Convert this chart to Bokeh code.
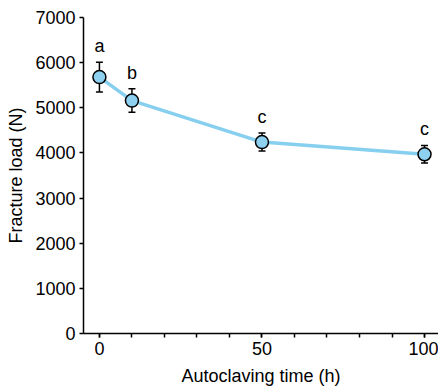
from bokeh.plotting import figure
from bokeh.models import ColumnDataSource, Whisker, TeeHead, SingleIntervalTicker, FixedTicker, Range1d
from bokeh.core.properties import value
from bokeh.embed import file_html
from bokeh.resources import INLINE

hours = [0, 10, 50, 100]
load = [5680, 5160, 4240, 3970]
err = [330, 260, 200, 195]
letters = ["a", "b", "c", "c"]

upper = [v + e for v, e in zip(load, err)]
lower = [v - e for v, e in zip(load, err)]
src = ColumnDataSource(dict(x=hours, y=load, upper=upper, lower=lower, t=letters))

FONT = "Liberation Sans"

p = figure(width=438, height=390, output_backend="svg", toolbar_location=None,
           x_range=Range1d(-4.9, 104.3), y_range=Range1d(0, 7000),
           min_border_left=83, min_border_right=0, min_border_top=17, min_border_bottom=57)
p.grid.visible = False
p.outline_line_color = None

p.line("x", "y", source=src, line_color="#86cfee", line_width=3.5)
w = Whisker(source=src, base="x", upper="upper", lower="lower", line_color="black", line_width=1.5,
            upper_head=TeeHead(size=7, line_color="black", line_width=1.5),
            lower_head=TeeHead(size=7, line_color="black", line_width=1.5))
p.add_layout(w)
p.scatter("x", "y", source=src, size=13, fill_color="#8dd0f0", line_color="black", line_width=1.5)
p.text("x", "upper", text="t", source=src, text_align="center", text_baseline="bottom",
       y_offset=-6, text_font=value(FONT), text_font_size="18px", text_color="black")

xa = p.xaxis[0]
xa.ticker = SingleIntervalTicker(interval=50, num_minor_ticks=5)
xa.axis_label = "Autoclaving time (h)"
ya = p.yaxis[0]
ya.ticker = FixedTicker(ticks=[0, 1000, 2000, 3000, 4000, 5000, 6000, 7000])
ya.axis_label = "Fracture load (N)"
ya.minor_tick_line_color = None

for ax in (xa, ya):
    ax.axis_line_color = "black"
    ax.axis_line_width = 1.5
    ax.major_tick_line_color = "black"
    ax.major_tick_line_width = 1.5
    ax.major_tick_out = 4
    ax.major_tick_in = 0
    ax.minor_tick_out = 4
    ax.minor_tick_in = 0
    ax.minor_tick_line_width = 1.5
    ax.major_label_text_font = FONT
    ax.major_label_text_font_size = "18px"
    ax.major_label_text_color = "black"
    ax.axis_label_text_font = FONT
    ax.axis_label_text_font_size = "18px"
    ax.axis_label_text_font_style = "normal"
    ax.axis_label_text_color = "black"
    ax.major_label_standoff = 4
xa.axis_label_standoff = 8
ya.axis_label_standoff = 6
xa.minor_tick_line_color = "black"

open("out.html", "w").write(file_html(p, INLINE))
